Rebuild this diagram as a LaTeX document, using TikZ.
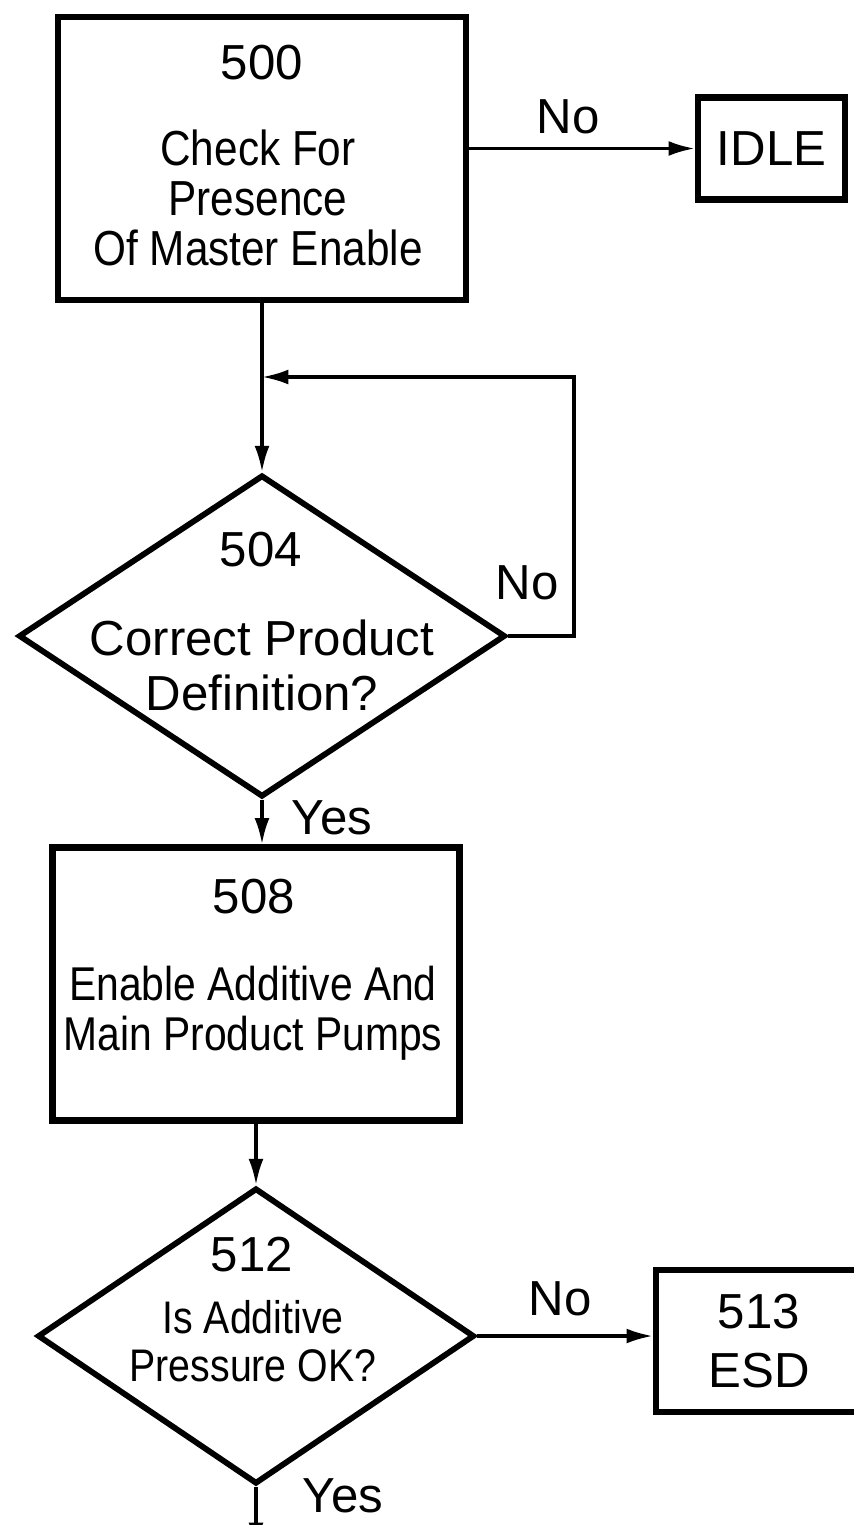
\documentclass[tikz,border=0pt]{standalone}
\usepackage{fontspec}
\setmainfont{Liberation Sans}
\newfontfamily\narrowsf{Liberation Sans}[FakeStretch=0.86]
\usetikzlibrary{arrows.meta, shapes.geometric, calc}
\tikzstyle{flowBox}=[draw, rectangle, line width=3.6pt, inner sep=0pt]
\tikzstyle{flowDiamond}=[draw, diamond, line width=3.3pt, inner sep=0pt]
\tikzstyle{invisNode}=[inner sep=0pt, align=center, font=\fontsize{28}{28}\selectfont]
\tikzstyle{flowArrow}=[line width=1.9pt, -{Latex[length=15pt,width=8.5pt]}]

\begin{document}
\begin{tikzpicture}[x=0.02cm, y=-0.02cm]
    \useasboundingbox (0,0) rectangle (853,1525);

    % Flow Nodes
    \node[flowBox, minimum width=8.16cm, minimum height=5.66cm] (b500) at (262, 158.5) {};
    \node[flowBox, minimum width=2.94cm, minimum height=2.04cm, font=\fontsize{28}{28}\selectfont] (idle) at (771.5, 148.5) {IDLE};
    \node[flowDiamond, minimum width=9.74cm, minimum height=6.44cm] (d504) at (262, 636) {};
    \node[flowBox, minimum width=8.14cm, minimum height=5.46cm] (b508) at (256, 984) {};
    \node[flowDiamond, minimum width=8.74cm, minimum height=5.92cm] (d512) at (256, 1336) {};
    \node[flowBox, minimum width=4.12cm, minimum height=2.85cm, align=center, font=\fontsize{28}{1.18cm}\selectfont] (esd) at (759, 1341) {513\\ESD};

    % Node Texts
    \node[invisNode] (n500) at (262, 63) {500};
    \node[invisNode, font=\narrowsf\fontsize{28}{1cm}\selectfont] (t500) at (258, 197.5) {Check For\\Presence\\Of Master Enable};
    \node[invisNode] (n504) at (261, 550) {504};
    \node[invisNode, font=\fontsize{28}{1.1cm}\selectfont] (t504) at (262, 665.5) {Correct Product\\Definition?};
    \node[invisNode] (n508) at (254, 897) {508};
    \node[invisNode, font=\narrowsf\fontsize{27}{1cm}\selectfont] (t508) at (253, 1013) {Enable Additive And\\Main Product Pumps};
    \node[invisNode] (n512) at (252, 1255) {512};
    \node[invisNode, font=\narrowsf\fontsize{26}{0.96cm}\selectfont] (t512) at (253, 1341) {Is Additive\\Pressure OK?};

    % Branch Labels
    \node[invisNode] (lblNo1) at (568, 117) {No};
    \node[invisNode] (lblNo2) at (527, 583) {No};
    \node[invisNode] (lblYes1) at (332, 818) {Yes};
    \node[invisNode] (lblNo3) at (560, 1299) {No};
    \node[invisNode] (lblYes2) at (343, 1496) {Yes};

    % Loop and exit points
    \coordinate (loopTurn) at (574, 377);
    \coordinate (loopIn) at (262, 377);
    \coordinate (exitPt) at (256, 1549);

    % Flow Arcs
    \draw[flowArrow] (b500.east |- idle.west) -- (idle.west);
    \draw[flowArrow] (b500.south) -- (d504.north);
    \draw[flowArrow] (d504.east) -| (loopTurn) -- (loopIn);
    \draw[flowArrow] (d504.south) -- (d504.south |- b508.north);
    \draw[flowArrow] (b508.south) -- (d512.north);
    \draw[flowArrow] (d512.east) -- (d512.east -| esd.west);
    \draw[flowArrow] (d512.south) -- (exitPt);

\end{tikzpicture}
\end{document}
